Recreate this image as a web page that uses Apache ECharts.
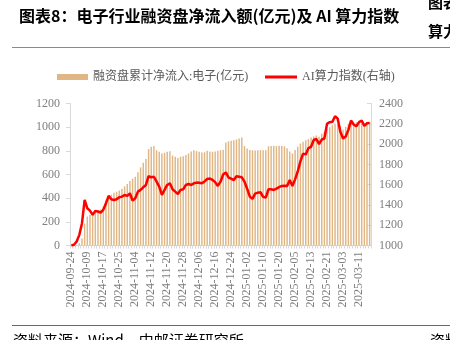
<!DOCTYPE html>
<html>
<head>
<meta charset="utf-8">
<script src="https://cdn.jsdelivr.net/npm/echarts@6/dist/echarts.min.js"></script>
<style>
  html, body { margin: 0; padding: 0; background: #fff; }
  #chart { width: 450px; height: 340px; }
</style>
</head>
<body>
<div id="chart"></div>
<script>
// Trading days, 2024-09-24 to 2025-03-17
var dates = [
  '2024-09-24','2024-09-25','2024-09-26','2024-09-27','2024-09-30',
  '2024-10-08','2024-10-09','2024-10-10','2024-10-11','2024-10-14','2024-10-15','2024-10-16','2024-10-17','2024-10-18',
  '2024-10-21','2024-10-22','2024-10-23','2024-10-24','2024-10-25','2024-10-28','2024-10-29','2024-10-30','2024-10-31',
  '2024-11-01','2024-11-04','2024-11-05','2024-11-06','2024-11-07','2024-11-08','2024-11-11','2024-11-12','2024-11-13',
  '2024-11-14','2024-11-15','2024-11-18','2024-11-19','2024-11-20','2024-11-21','2024-11-22','2024-11-25','2024-11-26',
  '2024-11-27','2024-11-28','2024-11-29',
  '2024-12-02','2024-12-03','2024-12-04','2024-12-05','2024-12-06','2024-12-09','2024-12-10','2024-12-11','2024-12-12',
  '2024-12-13','2024-12-16','2024-12-17','2024-12-18','2024-12-19','2024-12-20','2024-12-23','2024-12-24','2024-12-25',
  '2024-12-26','2024-12-27','2024-12-30','2024-12-31',
  '2025-01-02','2025-01-03','2025-01-06','2025-01-07','2025-01-08','2025-01-09','2025-01-10','2025-01-13','2025-01-14',
  '2025-01-15','2025-01-16','2025-01-17','2025-01-20','2025-01-21','2025-01-22','2025-01-23','2025-01-24','2025-01-27',
  '2025-02-05','2025-02-06','2025-02-07','2025-02-10','2025-02-11','2025-02-12','2025-02-13','2025-02-14','2025-02-17',
  '2025-02-18','2025-02-19','2025-02-20','2025-02-21','2025-02-24','2025-02-25','2025-02-26','2025-02-27','2025-02-28',
  '2025-03-03','2025-03-04','2025-03-05','2025-03-06','2025-03-07','2025-03-10','2025-03-11','2025-03-12','2025-03-13',
  '2025-03-14','2025-03-17'
];

// Cumulative margin net inflow, electronics sector (100M CNY)
var marginInflow = [
  0, 0, 5, 20, 60, 185, 245, 260, 275, 285,
  295, 305, 330, 380, 410, 430, 445, 455, 465, 480,
  500, 520, 545, 565, 580, 620, 660, 700, 730, 815,
  835, 840, 805, 792, 778, 783, 792, 797, 760, 750,
  740, 750, 755, 765, 778, 795, 805, 798, 792, 786,
  788, 800, 795, 792, 795, 800, 805, 810, 870, 880,
  885, 890, 896, 905, 912, 840, 820, 806, 805, 803,
  805, 806, 804, 805, 838, 840, 842, 840, 842, 840,
  838, 822, 795, 778, 808, 835, 862, 876, 890, 900,
  912, 922, 930, 918, 945, 960, 985, 1000, 1018, 1032,
  1025, 1010, 978, 1002, 1028, 1036, 1030, 1042, 1038, 1032,
  1030, 1040, 1045
];

// AI computing power index (right axis)
var aiIndex = [
  1000, 1007, 1040, 1105, 1220, 1449, 1367, 1344, 1302, 1341,
  1335, 1325, 1351, 1416, 1489, 1456, 1449, 1456, 1476, 1482,
  1498, 1489, 1515, 1443, 1466, 1531, 1548, 1574, 1597, 1685,
  1672, 1678, 1629, 1580, 1498, 1548, 1597, 1613, 1554, 1531,
  1508, 1548, 1554, 1597, 1606, 1597, 1613, 1620, 1618, 1613,
  1632, 1655, 1660, 1646, 1625, 1587, 1629, 1700, 1721, 1670,
  1660, 1645, 1683, 1678, 1672, 1630, 1560, 1482, 1460, 1512,
  1521, 1525, 1480, 1472, 1554, 1554, 1548, 1560, 1575, 1587,
  1590, 1587, 1646, 1587, 1652, 1730, 1830, 1905, 1898, 1960,
  1973, 2040, 2050, 2000, 2045, 2055, 2200, 2216, 2219, 2275,
  2250, 2121, 2055, 2075, 2140, 2232, 2193, 2175, 2216, 2232,
  2180, 2205, 2209
];

var leftTicks = [0, 200, 400, 600, 800, 1000, 1200];
var rightTicks = [1000, 1200, 1400, 1600, 1800, 2000, 2200, 2400];

var barName = '融资盘累计净流入:电子(亿元)';
var lineName = 'AI算力指数(右轴)';

var serif = '"Liberation Serif", "Noto Sans CJK SC", serif';
var cjk = '"Noto Sans CJK SC", sans-serif';
var labelGray = '#7f7f7f';
var axisGray = '#d9d9d9';
var plainNumber = function (v) { return String(v); };

var chart = echarts.init(document.getElementById('chart'), null, { renderer: 'canvas' });

var option = {
  animation: false,
  backgroundColor: '#ffffff',
  grid: { left: 70, right: 79, top: 103.5, bottom: 94.5, containLabel: false },
  legend: [
    {
      data: [barName],
      left: 52, top: 66,
      icon: 'rect', itemWidth: 31, itemHeight: 6, itemGap: 5,
      textStyle: { fontSize: 12, color: '#595959', fontFamily: serif }
    },
    {
      data: [lineName],
      left: 260, top: 66,
      icon: 'rect', itemWidth: 32, itemHeight: 3,
      textStyle: { fontSize: 12, color: '#595959', fontFamily: serif }
    }
  ],
  xAxis: {
    type: 'category',
    data: dates,
    boundaryGap: true,
    axisLine: { lineStyle: { color: axisGray, width: 1 } },
    axisTick: { show: true, interval: 0, length: 3, lineStyle: { color: axisGray } },
    axisLabel: {
      interval: 5, rotate: 90, margin: 6,
      fontSize: 12, color: labelGray, fontFamily: serif
    },
    splitLine: { show: false }
  },
  yAxis: [
    {
      type: 'value',
      min: leftTicks[0], max: leftTicks[leftTicks.length - 1],
      interval: leftTicks[1] - leftTicks[0],
      axisLine: { show: true, lineStyle: { color: axisGray } },
      axisTick: { show: true, length: 4, lineStyle: { color: axisGray } },
      axisLabel: { fontSize: 12, color: labelGray, fontFamily: serif, margin: 10, formatter: plainNumber },
      splitLine: { show: false }
    },
    {
      type: 'value',
      min: rightTicks[0], max: rightTicks[rightTicks.length - 1],
      interval: rightTicks[1] - rightTicks[0],
      axisLine: { show: true, lineStyle: { color: axisGray } },
      axisTick: { show: true, inside: true, length: 4, lineStyle: { color: axisGray } },
      axisLabel: { fontSize: 12, color: labelGray, fontFamily: serif, margin: 8, formatter: plainNumber },
      splitLine: { show: false }
    }
  ],
  series: [
    {
      name: barName,
      type: 'bar',
      data: marginInflow,
      yAxisIndex: 0,
      barWidth: '55%',
      itemStyle: { color: '#E0B784' }
    },
    {
      name: lineName,
      type: 'line',
      data: aiIndex,
      yAxisIndex: 1,
      symbol: 'none',
      smooth: false,
      lineStyle: { color: '#FF0000', width: 2.5 },
      itemStyle: { color: '#FF0000' },
      z: 5
    }
  ],
  graphic: [
    {
      type: 'text', left: 19, top: 8,
      style: {
        text: '图表8：电子行业融资盘净流入额(亿元)及 AI 算力指数',
        fontSize: 16, fontWeight: 'bold', fill: '#000', fontFamily: cjk
      }
    },
    {
      type: 'text', left: 428, top: -5,
      style: { text: '图表', fontSize: 15, fontWeight: 'bold', fill: '#000', fontFamily: cjk }
    },
    {
      type: 'text', left: 428, top: 24,
      style: { text: '算力', fontSize: 15, fontWeight: 'bold', fill: '#000', fontFamily: cjk }
    },
    {
      type: 'line', silent: true,
      shape: { x1: 12, y1: 47.5, x2: 450, y2: 47.5 },
      style: { stroke: '#e06666', lineWidth: 1 }
    },
    {
      type: 'line', silent: true,
      shape: { x1: 12, y1: 325.5, x2: 450, y2: 325.5 },
      style: { stroke: '#d9383a', lineWidth: 1 }
    },
    {
      type: 'text', left: 13, top: 333,
      style: { text: '资料来源：Wind，中邮证券研究所', fontSize: 15, fill: '#000', fontFamily: cjk }
    },
    {
      type: 'text', left: 430, top: 333,
      style: { text: '资料', fontSize: 15, fill: '#000', fontFamily: cjk }
    }
  ]
};

chart.setOption(option);
</script>
</body>
</html>
